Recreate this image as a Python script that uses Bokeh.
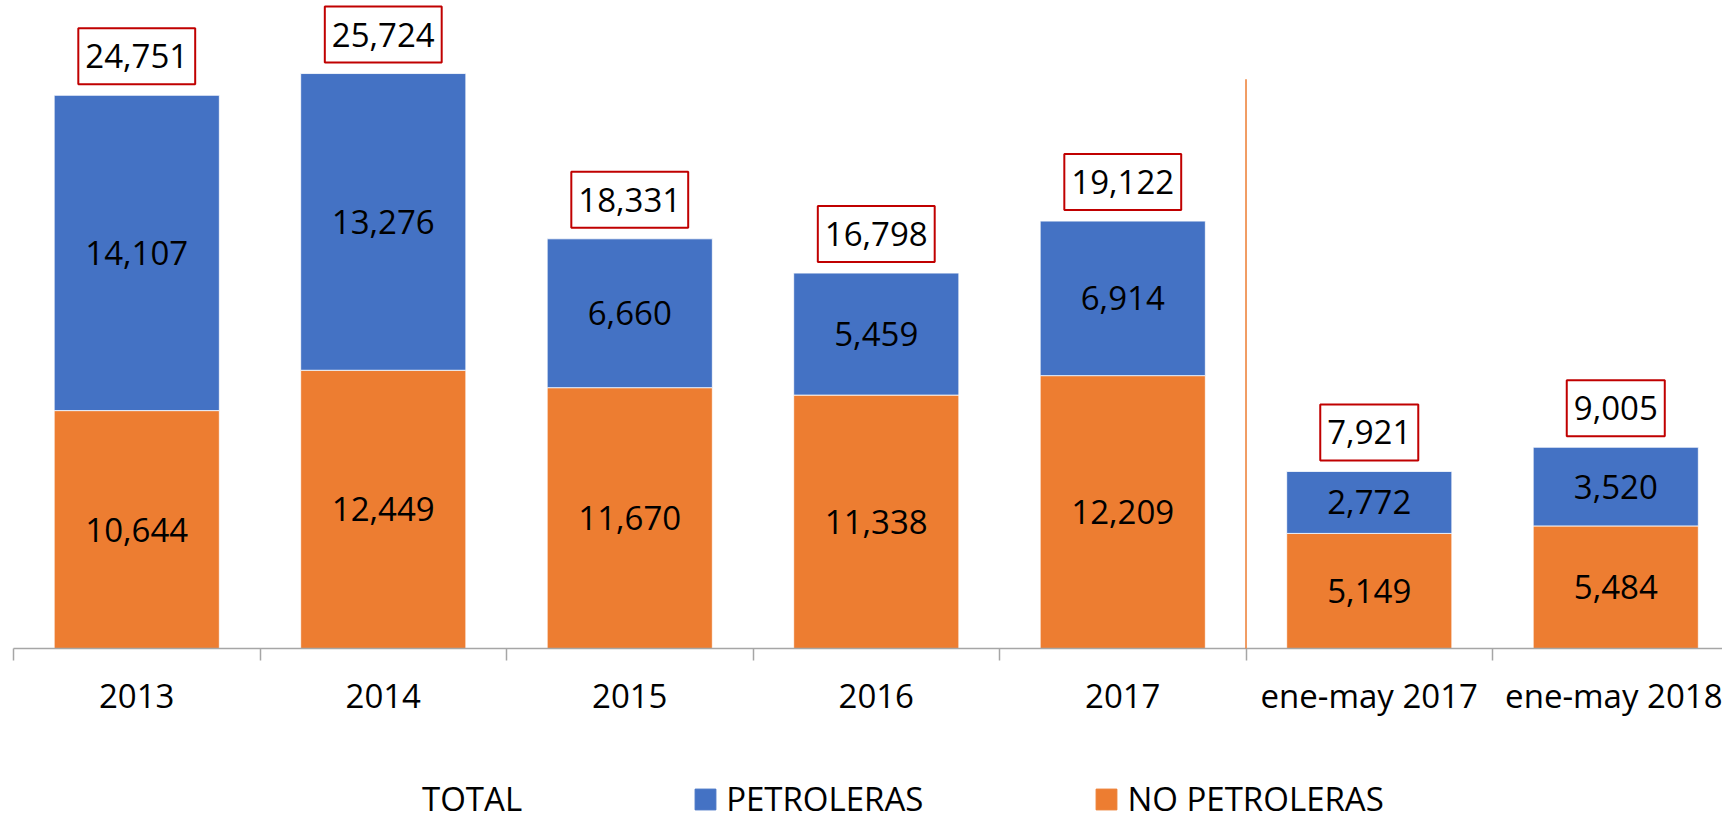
from bokeh.plotting import figure
from bokeh.layouts import column
from bokeh.models import (ColumnDataSource, Range1d, FixedTicker, LinearAxis, Legend,
                          LegendItem, Arrow, AllLabels)
from bokeh.core.properties import value
from bokeh.embed import file_html
from bokeh.resources import INLINE

# ---- data ----
categories = ["2013", "2014", "2015", "2016", "2017", "ene-may 2017", "ene-may 2018"]
petroleras = [14107, 13276, 6660, 5459, 6914, 2772, 3520]
no_petroleras = [10644, 12449, 11670, 11338, 12209, 5149, 5484]
totales = [24751, 25724, 18331, 16798, 19122, 7921, 9005]
series_names = ["TOTAL", "PETROLERAS", "NO PETROLERAS"]
divider_after = 5  # separates annual data from partial-year data

FONT = "Open Sans"
BLUE = "#4472C4"
ORANGE = "#ED7D31"
RED = "#C00000"
AXIS_GRAY = "#A6A6A6"

xs = [i + 0.5 for i in range(len(categories))]
src = ColumnDataSource(dict(
    x=xs,
    no_top=no_petroleras,
    pet_bottom=no_petroleras,
    pet_top=[n + p for n, p in zip(no_petroleras, petroleras)],
    no_mid=[n / 2 for n in no_petroleras],
    pet_mid=[n + p / 2 for n, p in zip(no_petroleras, petroleras)],
    total=totales,
    no_lbl=[f"{v:,}" for v in no_petroleras],
    pet_lbl=[f"{v:,}" for v in petroleras],
    tot_lbl=[f"{v:,}" for v in totales],
))

MAIN_H = 730
p = figure(width=1722, height=MAIN_H, output_backend="svg", toolbar_location=None,
           x_range=Range1d(0, 6.933), y_range=Range1d(0, 28993),
           x_axis_type=None, y_axis_type=None,
           min_border_left=13, min_border_right=0, min_border_top=0,
           min_border_bottom=MAIN_H - 648)
p.outline_line_color = None
p.background_fill_color = "white"
p.border_fill_color = "white"

BW = 0.67
p.vbar(x="x", width=BW, bottom=0, top="no_top", source=src,
       fill_color=ORANGE, line_color="white", line_width=0.8)
p.vbar(x="x", width=BW, bottom="pet_bottom", top="pet_top", source=src,
       fill_color=BLUE, line_color="white", line_width=0.8)

common = dict(text_align="center", text_baseline="middle", text_color="black",
              text_font=value(FONT), text_font_size=value("33px"))
p.text(x="x", y="no_mid", text="no_lbl", source=src, **common)
p.text(x="x", y="pet_mid", text="pet_lbl", source=src, **common)
p.text(x="x", y="total", text="tot_lbl", source=src, y_offset=-39,
       border_line_color=RED, border_line_width=2, background_fill_color="white",
       padding=(7, 16), **common)

ax = LinearAxis(ticker=FixedTicker(ticks=xs, minor_ticks=list(range(len(categories) + 1))),
                major_label_overrides={x: c for x, c in zip(xs, categories)},
                major_label_policy=AllLabels())
ax.axis_line_color = AXIS_GRAY
ax.axis_line_width = 1.5
ax.major_tick_line_color = None
ax.major_tick_out = 0
ax.major_tick_in = 0
ax.minor_tick_line_color = AXIS_GRAY
ax.minor_tick_line_width = 1.5
ax.minor_tick_out = 12
ax.minor_tick_in = 0
ax.major_label_text_font = FONT
ax.major_label_text_font_size = "33px"
ax.major_label_text_color = "black"
ax.major_label_standoff = 12
p.add_layout(ax, "below")

top_val = max(totales) * 0.99
p.add_layout(Arrow(x_start=divider_after, y_start=top_val, x_end=divider_after,
                   y_end=-max(totales) * 0.021, end=None,
                   line_color=ORANGE, line_width=1.5))

# ---- legend strip (separate figure below the chart; its data lie off-range) ----
lg = figure(width=1722, height=821 - MAIN_H, output_backend="svg", toolbar_location=None,
            x_range=Range1d(-2, -1), y_range=Range1d(0, 1),
            x_axis_type=None, y_axis_type=None,
            min_border_left=0, min_border_right=0, min_border_top=0, min_border_bottom=0)
lg.outline_line_color = None
lg.background_fill_color = "white"
lg.border_fill_color = "white"
l_total = lg.vbar(x="x", top="total", width=BW, source=src, fill_alpha=0, line_alpha=0)
l_pet = lg.vbar(x="x", top="pet_top", width=BW, source=src, fill_color=BLUE, line_color=BLUE)
l_no = lg.vbar(x="x", top="no_top", width=BW, source=src, fill_color=ORANGE, line_color=ORANGE)

legend = Legend(items=[LegendItem(label=series_names[0], renderers=[l_total]),
                       LegendItem(label=series_names[1], renderers=[l_pet]),
                       LegendItem(label=series_names[2], renderers=[l_no])],
                orientation="horizontal", location=(375, 0),
                glyph_width=26, glyph_height=26, label_standoff=8, spacing=170,
                padding=0, margin=0, border_line_color=None, background_fill_alpha=0,
                label_text_font=FONT, label_text_font_size="33px",
                label_text_color="black", label_height=26)
lg.add_layout(legend, "center")

layout = column(p, lg, spacing=0)
open("out.html", "w").write(file_html(layout, INLINE))
